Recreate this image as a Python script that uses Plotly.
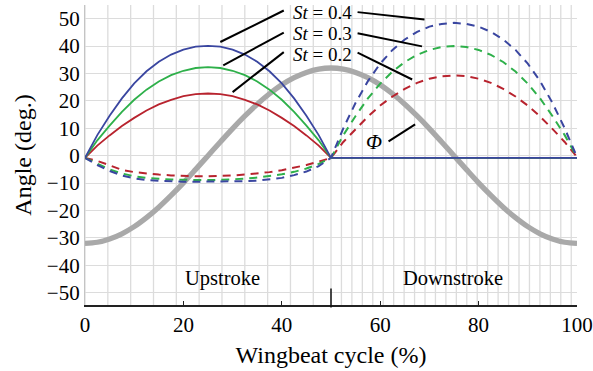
import plotly.graph_objects as go

# ---------------- data ----------------
cycle = [i * 2.5 for i in range(41)]  # wingbeat cycle (%)

phi = [-32.0, -31.6, -30.4, -28.5, -25.9, -22.6, -18.8, -14.5, -9.9, -5.0, 0.0,
       5.0, 9.9, 14.5, 18.8, 22.6, 25.9, 28.5, 30.4, 31.6, 32.0,
       31.6, 30.4, 28.5, 25.9, 22.6, 18.8, 14.5, 9.9, 5.0, 0.0,
       -5.0, -9.9, -14.5, -18.8, -22.6, -25.9, -28.5, -30.4, -31.6, -32.0]

flat = [-0.8] * 20

solid_04 = [-0.8, 7.5, 14.6, 20.9, 26.4, 30.8, 34.3, 36.9, 38.7, 39.8, 40.1,
            39.8, 38.7, 36.9, 34.3, 30.8, 26.4, 20.9, 14.6, 7.5, -0.8] + flat
solid_03 = [-0.8, 5.6, 11.0, 16.0, 20.4, 24.1, 27.1, 29.4, 31.0, 32.0, 32.3,
            32.0, 31.0, 29.4, 27.1, 24.1, 20.4, 16.0, 11.0, 5.6, -0.8] + flat
solid_02 = [-0.8, 3.7, 7.4, 10.8, 13.8, 16.5, 18.7, 20.4, 21.7, 22.5, 22.7,
            22.5, 21.7, 20.4, 18.7, 16.5, 13.8, 10.8, 7.4, 3.7, -0.8] + flat

dash_04 = [-0.8, -3.4, -5.6, -7.2, -8.3, -8.9, -9.2, -9.4, -9.5, -9.5, -9.5,
           -9.5, -9.4, -9.3, -9.1, -8.7, -8.1, -7.1, -5.8, -3.8, -0.8,
           10.0, 19.3, 27.2, 33.6, 38.6, 42.4, 45.2, 47.1, 48.1, 48.5,
           48.1, 47.1, 45.2, 42.4, 38.6, 33.6, 27.2, 19.3, 10.0, -0.5]
dash_03 = [-0.8, -3.0, -5.0, -6.5, -7.5, -8.1, -8.5, -8.7, -8.8, -8.9, -8.9,
           -8.8, -8.7, -8.4, -8.0, -7.5, -6.8, -5.9, -4.7, -3.0, -0.8,
           7.5, 14.5, 20.9, 26.3, 30.7, 34.2, 36.8, 38.6, 39.7, 40.0,
           39.7, 38.6, 36.8, 34.2, 30.7, 26.3, 20.9, 14.5, 7.5, -0.5]
dash_02 = [-0.8, -1.9, -3.5, -5.2, -6.0, -6.5, -6.9, -7.2, -7.4, -7.5, -7.5,
           -7.4, -7.2, -6.9, -6.5, -6.0, -5.3, -4.4, -3.4, -2.2, -0.8,
           5.0, 9.8, 14.3, 18.3, 21.6, 24.4, 26.6, 28.1, 29.0, 29.3,
           29.0, 28.1, 26.6, 24.4, 21.6, 18.3, 14.3, 9.8, 5.0, -0.5]

x_ticks = [0, 20, 40, 60, 80, 100]
y_ticks = [-50, -40, -30, -20, -10, 0, 10, 20, 30, 40, 50]
st_labels = ["<i>St</i> = 0.4", "<i>St</i> = 0.3", "<i>St</i> = 0.2"]

# ---------------- style ----------------
BLUE = "#3a46a0"
GREEN = "#2eb04a"
RED = "#b8232e"
GRAY = "#a9a9a9"
GRID = "#dcdcdc"
FONT = "Times New Roman, Liberation Serif, DejaVu Serif, serif"

fig = go.Figure()

fig.add_trace(go.Scatter(x=cycle, y=phi, mode="lines", line=dict(color=GRAY, width=5.3, shape="spline"),
                         showlegend=False, hoverinfo="skip"))

for ys, col in [(dash_02, RED), (dash_03, GREEN), (dash_04, BLUE)]:
    fig.add_trace(go.Scatter(x=cycle, y=ys, mode="lines",
                             line=dict(color=col, width=2, dash="8px,6px"),
                             showlegend=False, hoverinfo="skip"))
for ys, col in [(solid_02, RED), (solid_03, GREEN), (solid_04, BLUE)]:
    fig.add_trace(go.Scatter(x=cycle, y=ys, mode="lines",
                             line=dict(color=col, width=1.8),
                             showlegend=False, hoverinfo="skip"))

shapes = []
# irregular vertical grid (upstroke coarse, downstroke fine)
g = 0.0
while g < 49.9:
    shapes.append(dict(type="line", xref="x", yref="paper", x0=g, x1=g, y0=0, y1=1,
                       line=dict(color=GRID, width=1.3), layer="below"))
    g += 4.64
for j in range(24):
    g = 50 + 2.123 * j
    shapes.append(dict(type="line", xref="x", yref="paper", x0=g, x1=g, y0=0, y1=1,
                       line=dict(color=GRID, width=1.3), layer="below"))

# stroke divider tick
shapes.append(dict(type="line", xref="x", yref="paper", x0=50, x1=50, y0=-0.008, y1=0.055,
                   line=dict(color="#111111", width=1.5)))

# leader lines
leaders = [
    (40.4, 53.0, 27.5, 41.5), (55.4, 52.4, 69.0, 49.7),
    (40.4, 44.9, 28.1, 33.0), (55.4, 44.7, 68.5, 39.9),
    (40.4, 37.8, 30.0, 23.2), (55.4, 37.6, 66.5, 27.8),
    (61.7, 5.2, 67.1, 11.4),
]
for x0, y0, x1, y1 in leaders:
    shapes.append(dict(type="line", xref="x", yref="y", x0=x0, y0=y0, x1=x1, y1=y1,
                       line=dict(color="black", width=2)))

annotations = []
for lab, yy in zip(st_labels, [52.3, 44.6, 36.9]):
    annotations.append(dict(x=48.25, y=yy, xref="x", yref="y", text=lab, showarrow=False,
                            font=dict(family=FONT, size=19, color="black")))
annotations.append(dict(x=58.8, y=5.0, xref="x", yref="y", text="<i>Φ</i>", showarrow=False,
                        font=dict(family=FONT, size=21, color="black")))
annotations.append(dict(x=28.0, y=-44.8, xref="x", yref="y", text="Upstroke", showarrow=False,
                        font=dict(family=FONT, size=20.5, color="black")))
annotations.append(dict(x=74.7, y=-44.8, xref="x", yref="y", text="Downstroke", showarrow=False,
                        font=dict(family=FONT, size=20.5, color="black")))

fig.update_layout(
    width=593, height=371,
    margin=dict(l=85, r=16, t=5, b=66, autoexpand=False),
    paper_bgcolor="white", plot_bgcolor="white",
    font=dict(family=FONT, size=20, color="black"),
    shapes=shapes, annotations=annotations,
    xaxis=dict(range=[0, 100], tickvals=x_ticks, showgrid=False, zeroline=False,
               automargin=False, ticklabeloverflow="allow",
               showline=True, linecolor="#222222", linewidth=1.5,
               ticks="inside", ticklen=4, tickcolor="#222222",
               tickfont=dict(family=FONT, size=21),
               title=dict(text="Wingbeat cycle (%)", font=dict(family=FONT, size=24), standoff=10)),
    yaxis=dict(range=[-54.5, 55], tickvals=y_ticks, showgrid=True, gridcolor=GRID, gridwidth=1.3,
               automargin=False,
               zeroline=False, showline=True, linecolor="#c4c4c4", linewidth=1.3,
               ticks="", tickfont=dict(family=FONT, size=21),
               title=dict(text="Angle (deg.)", font=dict(family=FONT, size=24), standoff=8)),
)

fig.write_html("out.html")
